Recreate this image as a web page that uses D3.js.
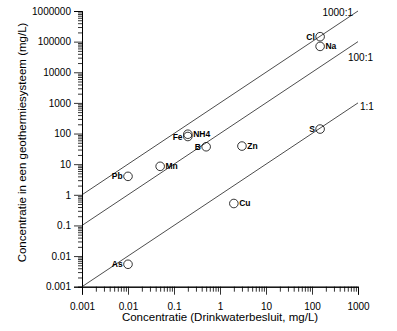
<!DOCTYPE html>
<html><head><meta charset="utf-8">
<script src="https://cdn.jsdelivr.net/npm/d3@7"></script>
<style>body{margin:0;background:#fff}svg{display:block}text{font-family:"Liberation Sans",Arial,sans-serif}</style>
</head><body>
<svg id="c" width="397" height="331"></svg>
<script>
const elements = ["Cl","Na","Fe","NH4","B","Zn","S","Mn","Cu","Pb","As"];
const drinkwater = [150,150,0.2,0.2,0.5,3,150,0.05,2,0.01,0.01];
const geothermie = [145000,70000,80,95,37,39,140,8.5,0.52,4,0.0054];
const labelSide = ["left","right","left","right","left","right","left","right","right","left","left"];
const ratioLabels = ["1000:1","100:1","1:1"];
const ratios = [1000,100,1];
const xTickValues = [0.001,0.01,0.1,1,10,100,1000];
const xTickLabels = ["0.001","0.01","0.1","1","10","100","1000"];
const yTickValues = [0.001,0.01,0.1,1,10,100,1000,10000,100000,1000000];
const yTickLabels = ["0.001","0.01","0.1","1","10","100","1000","10000","100000","1000000"];

const svg = d3.select("#c");
const x = d3.scaleLog().domain([0.001,1000]).range([82,358]);
const y = d3.scaleLog().domain([0.001,1000000]).range([286.7,11]);

function minors(dom){
  const out=[];
  for(let e=Math.log10(dom[0]); e<Math.log10(dom[1]); e++){
    for(let k=2;k<=9;k++) out.push(k*Math.pow(10,e));
  }
  return out;
}

// x axis
const gx = svg.append("g").attr("transform","translate(0,286.7)");
gx.call(d3.axisBottom(x).tickValues(minors(x.domain())).tickSize(5).tickFormat(""));
const gx2 = svg.append("g").attr("transform","translate(0,286.7)");
gx2.call(d3.axisBottom(x).tickValues(xTickValues).tickSize(8).tickPadding(8)
  .tickFormat((d,i)=>xTickLabels[i]));
// y axis
const gy = svg.append("g").attr("transform","translate(82,0)");
gy.call(d3.axisLeft(y).tickValues(minors(y.domain())).tickSize(4).tickFormat(""));
const gy2 = svg.append("g").attr("transform","translate(82,0)");
gy2.call(d3.axisLeft(y).tickValues(yTickValues).tickSize(8).tickPadding(3)
  .tickFormat((d,i)=>yTickLabels[i]));
svg.selectAll(".domain").attr("stroke","#000").attr("stroke-width",1);
svg.selectAll(".tick line").attr("stroke","#000").attr("stroke-width",0.8);
svg.selectAll(".tick text").attr("font-size",10).attr("fill","#000")
  .attr("font-family","'Liberation Sans',Arial,sans-serif");

// axis titles
svg.append("text").attr("x",220).attr("y",320.5).attr("text-anchor","middle")
  .attr("font-size",11.5).text("Concentratie (Drinkwaterbesluit, mg/L)");
svg.append("text").attr("transform","translate(26,142.5) rotate(-90)").attr("text-anchor","middle")
  .attr("font-size",11.5).text("Concentratie in een geothermiesysteem (mg/L)");

// ratio lines
const xd = x.domain();
ratios.forEach((r,i)=>{
  svg.append("line")
    .attr("x1",x(xd[0])).attr("y1",y(xd[0]*r))
    .attr("x2",x(xd[1])).attr("y2",y(xd[1]*r))
    .attr("stroke","#000").attr("stroke-width",0.7);
});
const rlPos = [[353,16,"end"],[348,61,"start"],[360,110,"start"]];
ratioLabels.forEach((t,i)=>{
  svg.append("text").attr("x",rlPos[i][0]).attr("y",rlPos[i][1]).attr("text-anchor",rlPos[i][2])
    .attr("font-size",10).text(t);
});

// points
const r = 4.3;
elements.forEach((el,i)=>{
  const cx = x(drinkwater[i]), cy = y(geothermie[i]);
  svg.append("circle").attr("cx",cx).attr("cy",cy).attr("r",r)
    .attr("fill","none").attr("stroke","#000").attr("stroke-width",0.8);
  const left = labelSide[i]==="left";
  svg.append("text").attr("x", left? cx-r-1 : cx+r+1).attr("y",cy+3)
    .attr("text-anchor", left? "end":"start")
    .attr("font-size",8.5).attr("font-weight","bold").text(el);
});
</script>
</body></html>
